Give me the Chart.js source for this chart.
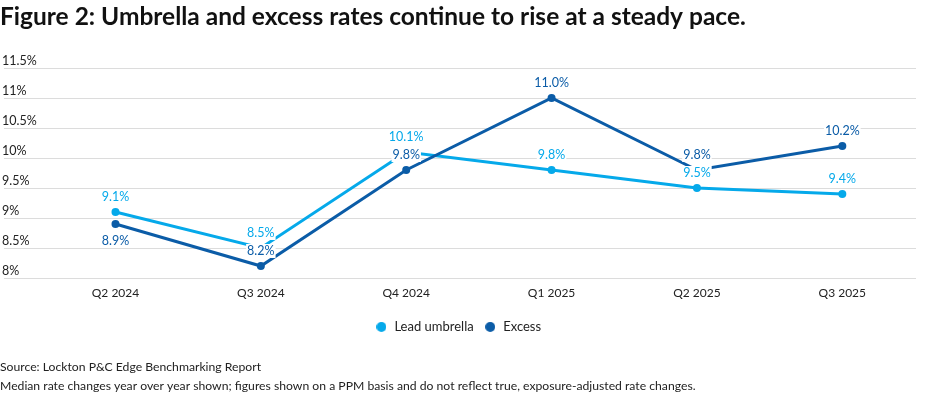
<!DOCTYPE html>
<html>
<head>
<meta charset="utf-8">
<script src="https://cdn.jsdelivr.net/npm/chart.js@4"></script>
<style>
html,body{margin:0;padding:0;background:#fff;}
#wrap{width:926px;height:395px;position:relative;}
</style>
</head>
<body>
<div id="wrap"><canvas id="c"></canvas></div>
<script>
const categories = ["Q2 2024", "Q3 2024", "Q4 2024", "Q1 2025", "Q2 2025", "Q3 2025"];
const leadUmbrella = [9.1, 8.5, 10.1, 9.8, 9.5, 9.4];
const excess = [8.9, 8.2, 9.8, 11.0, 9.8, 10.2];
const yTicks = [8, 8.5, 9, 9.5, 10, 10.5, 11, 11.5];
const seriesNames = ["Lead umbrella", "Excess"];
const titleText = "Figure 2: Umbrella and excess rates continue to rise at a steady pace.";
const footerLines = [
  "Source: Lockton P&C Edge Benchmarking Report",
  "Median rate changes year over year shown; figures shown on a PPM basis and do not reflect true, exposure-adjusted rate changes."
];

const LIGHT = "#05a9ea";
const DARK = "#0b5ca7";
const FONT = "Lato";

function dot(color) {
  const c = document.createElement("canvas");
  c.width = 10; c.height = 10;
  const g = c.getContext("2d");
  g.fillStyle = color;
  g.beginPath();
  g.arc(5, 5, 5, 0, Math.PI * 2);
  g.fill();
  return c;
}
const legendDots = [dot(LIGHT), dot(DARK)];

const labelPlugin = {
  id: "valueLabels",
  afterDatasetsDraw(chart) {
    const ctx = chart.ctx;
    ctx.save();
    ctx.font = "12.5px " + FONT;
    ctx.textAlign = "center";
    ctx.textBaseline = "middle";
    chart.data.datasets.forEach((ds, di) => {
      const meta = chart.getDatasetMeta(di);
      meta.data.forEach((pt, i) => {
        const txt = ds.data[i].y.toFixed(1) + "%";
        const below = (di === 1 && i === 0);
        const y = below ? pt.y + 17 : pt.y - 15;
        const w = ctx.measureText(txt).width;
        ctx.fillStyle = "#fff";
        ctx.fillRect(pt.x - w / 2 - 1, y - 7, w + 2, 14);
        ctx.fillStyle = ds.borderColor;
        ctx.fillText(txt, pt.x, y);
      });
    });
    ctx.restore();
  }
};

const xMin = -0.767, xMax = 5.507;

new Chart(document.getElementById("c"), {
  type: "line",
  data: {
    datasets: [
      {
        label: seriesNames[0],
        data: leadUmbrella.map((v, i) => ({ x: i, y: v })),
        borderColor: LIGHT,
        backgroundColor: LIGHT,
        borderWidth: 3,
        pointRadius: 4,
        pointBorderWidth: 0,
        pointHoverRadius: 4,
        order: 1
      },
      {
        label: seriesNames[1],
        data: excess.map((v, i) => ({ x: i, y: v })),
        borderColor: DARK,
        backgroundColor: DARK,
        borderWidth: 3,
        pointRadius: 4,
        pointBorderWidth: 0,
        pointHoverRadius: 4,
        order: 0
      }
    ]
  },
  options: {
    responsive: true,
    maintainAspectRatio: false,
    animation: false,
    layout: { padding: { left: 0, right: 10, top: 0, bottom: 0 } },
    scales: {
      x: {
        type: "linear",
        min: xMin,
        max: xMax,
        afterBuildTicks: (axis) => { axis.ticks = categories.map((c, i) => ({ value: i })); },
        afterFit: (axis) => { axis.height += 2; },
        grid: { display: false, drawTicks: false },
        border: { display: false },
        ticks: {
          callback: (v) => categories[v] !== undefined ? categories[v] : "",
          color: "#222",
          font: { family: FONT, size: 12 },
          padding: 8,
          maxRotation: 0,
          autoSkip: false
        }
      },
      y: {
        min: 8,
        max: 11.5,
        afterBuildTicks: (axis) => { axis.ticks = yTicks.map(v => ({ value: v })); },
        afterFit: (axis) => { axis.width = 0; },
        grid: { color: "#dcdcdc", lineWidth: 1, drawTicks: false },
        border: { display: false },
        ticks: {
          mirror: true,
          padding: -2,
          labelOffset: -7,
          color: "#222",
          font: { family: FONT, size: 12.5 },
          callback: (v) => v + "%"
        }
      }
    },
    plugins: {
      title: {
        display: true,
        text: titleText,
        align: "start",
        color: "#111",
        font: { family: FONT, size: 24.5, weight: "bold", lineHeight: 1.2 },
        padding: { top: 2, bottom: 36.6 }
      },
      subtitle: {
        display: true,
        position: "bottom",
        text: footerLines,
        align: "start",
        color: "#222",
        font: { family: FONT, size: 12.2, lineHeight: 1.5 },
        padding: { top: 15, bottom: 0 }
      },
      legend: {
        display: true,
        position: "bottom",
        labels: {
          usePointStyle: true,
          boxWidth: 13,
          boxHeight: 13,
          color: "#222",
          font: { family: FONT, size: 13 },
          padding: 10,
          generateLabels: (chart) => {
            const items = Chart.defaults.plugins.legend.labels.generateLabels(chart);
            items.forEach(it => { it.pointStyle = legendDots[it.datasetIndex]; });
            return items;
          },
          sort: (a, b) => a.datasetIndex - b.datasetIndex
        }
      },
      tooltip: { enabled: false }
    }
  },
  plugins: [labelPlugin]
});
</script>
</body>
</html>
